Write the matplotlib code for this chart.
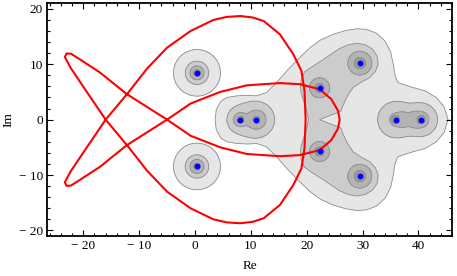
import numpy as np
import matplotlib
matplotlib.use("Agg")
import matplotlib.pyplot as plt

# eigenvalue points (blue dots)
dot_x = [0.35, 0.35, 8.1, 11.0, 22.3, 22.3, 29.5, 29.5, 35.9, 40.5]
dot_y = [8.45, -8.45, 0.0, 0.0, 5.75, -5.75, 10.2, -10.2, 0.0, 0.0]

# red closed curve
curve_x = [8.1, 10.3, 12.3, 15.2, 17.6, 19.05, 19.6, 19.8, 19.6, 19.05, 17.6, 15.2, 12.3, 10.3,
           8.1, 5.7, 3.3, -0.8, -5.0, -8.6, -12.1, -16.0, -19.9, -22.3, -23.3, -23.0, -22.2,
           -21.1, -17.0, -12.2, -8.6, -5.0, -0.8, 4.5, 9.3, 15.2, 18.75, 22.3, 24.4, 25.6, 25.9,
           25.6, 24.4, 22.3, 18.75, 15.2, 9.3, 4.5, -0.8, -5.0, -8.6, -12.2, -17.0, -21.1, -22.2,
           -23.0, -23.3, -22.3, -19.9, -16.0, -12.1, -8.6, -5.0, -0.8, 3.3, 5.7, 8.1]
curve_y = [18.7, 18.45, 17.8, 15.4, 11.8, 8.8, 5.2, 0.0, -5.2, -8.8, -11.8, -15.4, -17.8, -18.45,
           -18.7, -18.55, -18.0, -16.0, -13.0, -9.2, -4.7, 0.0, 5.8, 9.4, 11.3, 11.95, 11.9,
           11.2, 8.5, 4.6, 2.3, 0.0, -2.9, -5.0, -6.2, -6.6, -6.4, -5.5, -3.7, -1.6, 0.0,
           1.6, 3.7, 5.5, 6.4, 6.6, 6.2, 5.0, 2.9, 0.0, -2.3, -4.6, -8.5, -11.2, -11.9,
           -11.95, -11.3, -9.4, -5.8, 0.0, 4.7, 9.2, 13.0, 16.0, 18.0, 18.55, 18.7]

# outer (lightest) contour around the right cluster
outer_x = [3.6, 3.8, 4.6, 5.7, 7.5, 9.5, 11.0, 12.8, 14.6, 16.6, 18.75, 20.6, 22.5, 24.7, 27.0,
           29.0, 30.7, 32.5, 34.0, 35.0, 35.5, 35.8, 36.3, 37.5, 39.0, 41.2, 43.2, 44.6, 45.3,
           44.6, 43.2, 41.2, 39.0, 37.5, 36.3, 35.8, 35.5, 35.0, 34.0, 32.5, 30.7, 29.0, 27.0,
           24.7, 22.5, 20.6, 18.75, 16.6, 14.6, 12.8, 11.0, 9.5, 7.5, 5.7, 4.6, 3.8]
outer_y = [0.0, 1.8, 3.3, 4.0, 4.3, 4.4, 4.3, 4.9, 6.7, 9.0, 11.2, 13.0, 14.4, 15.4, 16.1,
           16.4, 16.3, 15.6, 14.2, 12.3, 10.0, 8.0, 6.7, 6.3, 5.8, 5.2, 4.0, 2.3, 0.0,
           -2.3, -4.0, -5.2, -5.8, -6.3, -6.7, -8.0, -10.0, -12.3, -14.2, -15.6, -16.3, -16.4, -16.1,
           -15.4, -14.4, -13.0, -11.2, -9.0, -6.7, -4.9, -4.3, -4.4, -4.3, -4.0, -3.3, -1.8]

# second contour: the "<" shaped band through the four middle points
band_x = [20.3, 20.0, 19.5, 19.0, 18.9, 19.0, 19.6, 21.0, 22.6, 24.2, 25.8, 27.4, 29.0, 30.5,
          31.8, 32.6, 32.8, 32.3, 31.3, 29.8, 28.3, 27.3, 26.6, 26.1, 22.3,
          26.1, 26.6, 27.3, 28.3, 29.8, 31.3, 32.3, 32.8, 32.6, 31.8, 30.5, 29.0, 27.4, 25.8,
          24.2, 22.6, 21.0, 19.6, 19.0, 18.9, 19.0, 19.5, 20.0]
band_y = [0.0, 1.5, 3.2, 4.8, 5.8, 7.2, 8.6, 9.6, 10.6, 11.7, 12.8, 13.5, 13.8, 13.5,
          12.7, 11.5, 10.0, 8.7, 7.6, 6.8, 5.8, 4.3, 2.8, 1.5, 0.0,
          -1.5, -2.8, -4.3, -5.8, -6.8, -7.6, -8.7, -10.0, -11.5, -12.7, -13.5, -13.8, -13.5, -12.8,
          -11.7, -10.6, -9.6, -8.6, -7.2, -5.8, -4.8, -3.2, -1.5]

# remaining contours: each blob = (exponent, centres x, centres y, radii), discs joined softly
level1 = [
    (3, [0.35], [8.45], [4.2]),
    (3, [0.35], [-8.45], [4.2]),
]
level2 = [
    (3, [0.35], [8.45], [2.1]),
    (3, [0.35], [-8.45], [2.1]),
    (3, [8.1, 11.0], [0, 0], [2.2, 3.2]),
    (3, [35.9, 40.5], [0, 0], [3.15, 2.85]),
]
level3 = [
    (3, [0.35], [8.45], [1.25]),
    (3, [0.35], [-8.45], [1.25]),
    (3, [8.1, 11.0], [0, 0], [1.2, 1.7]),
    (3, [22.3], [5.75], [1.8]),
    (3, [22.3], [-5.75], [1.8]),
    (3, [29.5], [10.2], [2.15]),
    (3, [29.5], [-10.2], [2.15]),
    (3, [35.9, 37.1, 39.3, 40.5], [0, 0, 0, 0], [1.0, 1.25, 1.25, 1.3]),
]
level4 = [
    (3, [0.35], [8.45], [0.6]),
    (3, [0.35], [-8.45], [0.6]),
    (3, [8.1], [0], [0.6]),
    (3, [11.0], [0], [0.6]),
    (3, [22.3], [5.75], [0.8]),
    (3, [22.3], [-5.75], [0.8]),
    (3, [29.5], [10.2], [1.0]),
    (3, [29.5], [-10.2], [1.0]),
    (3, [35.9], [0], [0.75]),
    (3, [40.5], [0], [0.75]),
]
fills = ["#e6e6e6", "#cccccc", "#b3b3b3", "#999999"]
line_col = "#8c8c8c"

dpi = 100
fig = plt.figure(figsize=(457 / dpi, 276 / dpi), dpi=dpi)
ax = fig.add_axes([0.1028, 0.145, 0.8862, 0.843])

X, Y = np.meshgrid(np.linspace(-26.5, 46, 907), np.linspace(-21, 21, 526))


def draw_blobs(blobs, col):
    for p, bx, by, br in blobs:
        F = np.zeros_like(X)
        for cx, cy, r in zip(bx, by, br):
            d = np.hypot(X - cx, Y - cy) + 1e-6
            F += (r / d) ** p
        F = np.minimum(F, 1e6)
        ax.contourf(X, Y, F, levels=[1, 1e7], colors=[col], zorder=1)
        ax.contour(X, Y, F, levels=[1], colors=line_col, linewidths=0.6, zorder=1)


draw_blobs(level1, fills[0])
ax.fill(outer_x, outer_y, facecolor=fills[0], edgecolor=line_col, lw=0.6, zorder=1)
draw_blobs(level2, fills[1])
ax.fill(band_x, band_y, facecolor=fills[1], edgecolor=line_col, lw=0.6, zorder=1)
draw_blobs(level3, fills[2])
draw_blobs(level4, fills[3])

ax.plot(curve_x, curve_y, color="red", lw=1.5, zorder=3)
ax.plot(dot_x, dot_y, "o", color="blue", ms=3.2, mec="blue", zorder=4)

ax.set_xlim(-26.5, 46)
ax.set_ylim(-21, 21)

serif = "Liberation Serif"
xt = [-20, -10, 0, 10, 20, 30, 40]
yt = [-20, -10, 0, 10, 20]
ax.set_xticks(xt)
ax.set_xticklabels([("\u2212 " + str(-v)) if v < 0 else str(v) for v in xt], family=serif, fontsize=9.5)
ax.set_yticks(yt)
ax.set_yticklabels([("\u2212 " + str(-v)) if v < 0 else str(v) for v in yt], family=serif, fontsize=9.5)
ax.set_xticks(np.arange(-26, 47, 2), minor=True)
ax.set_yticks(np.arange(-20, 21, 2), minor=True)
ax.tick_params(which="both", direction="in", top=True, right=True, color="black", width=0.8, pad=3)
ax.tick_params(which="major", length=4)
ax.tick_params(which="minor", length=2)
for s in ax.spines.values():
    s.set_linewidth(1.3)
ax.set_xlabel("Re", family=serif, fontsize=9.5)
ax.set_ylabel("Im", family=serif, fontsize=9.5)
ax.xaxis.set_label_coords(0.5, -0.105)
ax.yaxis.set_label_coords(-0.08, 0.5)

fig.savefig("out.png", dpi=dpi)
